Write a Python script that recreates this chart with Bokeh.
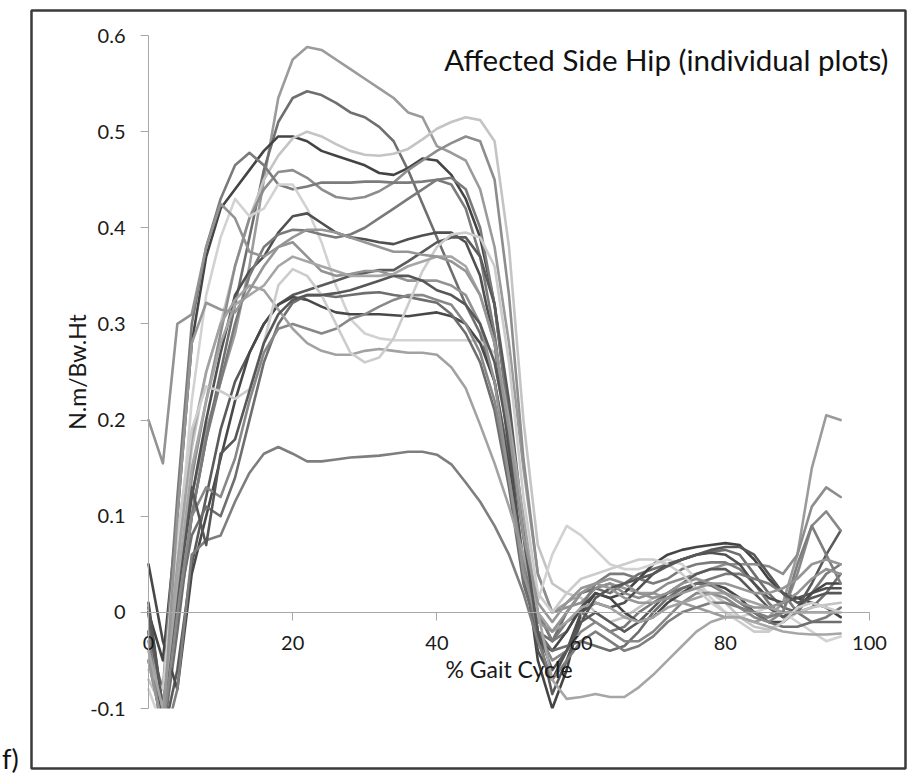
from bokeh.plotting import figure
from bokeh.models import Range1d, FixedTicker, Label, Div
from bokeh.layouts import row
from bokeh.embed import file_html
from bokeh.resources import INLINE

# ---------------- data ----------------
gait = [0, 2, 4, 6, 8, 10, 12, 14, 16, 18,
        20, 22, 24, 26, 28, 30, 32, 34, 36, 38,
        40, 42, 44, 46, 48, 50, 52, 54, 56, 58,
        60, 62, 64, 66, 68, 70, 72, 74, 76, 78,
        80, 82, 84, 86, 88, 90, 92, 94, 96]

s01 = [-0.05, -0.12, 0.02, 0.12, 0.19, 0.24, 0.29, 0.36, 0.45, 0.535,
       0.575, 0.588, 0.585, 0.575, 0.565, 0.555, 0.545, 0.535, 0.52, 0.515,
       0.485, 0.478, 0.47, 0.44, 0.38, 0.28, 0.15, 0.04, 0.0, 0.01,
       0.02, 0.025, 0.03, 0.025, 0.02, 0.02, 0.015, 0.01, 0.005, 0.0,
       -0.005, -0.005, -0.01, -0.005, 0.01, 0.06, 0.15, 0.205, 0.2]
s02 = [-0.02, -0.13, -0.02, 0.1, 0.18, 0.25, 0.32, 0.39, 0.46, 0.51,
       0.535, 0.542, 0.538, 0.53, 0.52, 0.515, 0.505, 0.49, 0.46, 0.425,
       0.39, 0.355, 0.32, 0.29, 0.24, 0.16, 0.06, -0.02, -0.03, 0.0,
       0.02, 0.025, 0.02, 0.03, 0.04, 0.045, 0.05, 0.055, 0.06, 0.063,
       0.065, 0.06, 0.04, 0.02, 0.005, 0.0, 0.005, 0.02, 0.04]
s03 = [0.0, -0.05, 0.1, 0.28, 0.37, 0.42, 0.44, 0.46, 0.48, 0.495,
       0.495, 0.49, 0.48, 0.475, 0.47, 0.465, 0.457, 0.455, 0.462, 0.472,
       0.47, 0.455, 0.43, 0.39, 0.32, 0.2, 0.06, -0.05, -0.1, -0.06,
       0.0, 0.02, 0.015, 0.02, 0.035, 0.05, 0.06, 0.065, 0.068, 0.07,
       0.072, 0.07, 0.055, 0.035, 0.02, 0.015, 0.01, 0.005, -0.005]
s04 = [-0.07, -0.1, 0.05, 0.17, 0.25, 0.3, 0.36, 0.41, 0.45, 0.475,
       0.493, 0.5, 0.495, 0.487, 0.48, 0.476, 0.475, 0.477, 0.482, 0.492,
       0.503, 0.51, 0.515, 0.512, 0.49, 0.38, 0.2, 0.07, 0.03, 0.02,
       0.015, 0.0, -0.01, -0.005, 0.005, 0.015, 0.02, 0.022, 0.025, 0.02,
       0.01, -0.005, -0.015, -0.018, -0.01, 0.0, 0.005, 0.008, 0.01]
s05 = [0.0, -0.12, 0.0, 0.14, 0.22, 0.29, 0.36, 0.41, 0.44, 0.458,
       0.46, 0.452, 0.44, 0.432, 0.43, 0.432, 0.438, 0.447, 0.46, 0.47,
       0.48, 0.488, 0.495, 0.49, 0.45, 0.33, 0.16, 0.04, 0.0, 0.005,
       0.01, 0.025, 0.03, 0.02, 0.015, 0.02, 0.03, 0.035, 0.04, 0.045,
       0.05, 0.05, 0.05, 0.048, 0.04, 0.06, 0.11, 0.13, 0.12]
s06 = [-0.03, -0.08, 0.12, 0.3, 0.38, 0.43, 0.465, 0.478, 0.465, 0.445,
       0.44, 0.443, 0.447, 0.447, 0.447, 0.448, 0.448, 0.447, 0.447, 0.448,
       0.45, 0.445, 0.42, 0.37, 0.29, 0.18, 0.07, 0.0, -0.03, -0.02,
       0.005, 0.03, 0.04, 0.04, 0.035, 0.03, 0.035, 0.045, 0.05, 0.052,
       0.052, 0.045, 0.03, 0.01, -0.005, 0.0, 0.02, 0.04, 0.05]
s07 = [-0.08, -0.12, 0.05, 0.22, 0.33, 0.39, 0.43, 0.412, 0.42, 0.445,
       0.445, 0.42, 0.385, 0.34, 0.305, 0.29, 0.285, 0.283, 0.283, 0.283,
       0.283, 0.283, 0.283, 0.282, 0.27, 0.2, 0.06, 0.012, 0.06, 0.09,
       0.08, 0.065, 0.05, 0.045, 0.045, 0.05, 0.055, 0.05, 0.035, 0.015,
       0.0, -0.005, 0.0, 0.005, 0.0, -0.01, -0.02, -0.03, -0.025]
s08 = [0.01, -0.1, 0.02, 0.12, 0.2, 0.27, 0.33, 0.355, 0.37, 0.395,
       0.412, 0.415, 0.405, 0.395, 0.39, 0.388, 0.385, 0.383, 0.388, 0.392,
       0.395, 0.395, 0.385, 0.35, 0.28, 0.17, 0.05, -0.04, -0.07, -0.04,
       0.0, 0.01, 0.005, 0.01, 0.025, 0.04, 0.05, 0.055, 0.06, 0.062,
       0.06, 0.05, 0.03, 0.015, 0.01, 0.015, 0.02, 0.025, 0.025]
s09 = [-0.02, -0.12, 0.0, 0.1, 0.18, 0.24, 0.3, 0.35, 0.38, 0.393,
       0.398, 0.397, 0.393, 0.39, 0.393, 0.4, 0.41, 0.42, 0.43, 0.44,
       0.45, 0.452, 0.44, 0.4, 0.32, 0.2, 0.08, 0.0, -0.03, -0.01,
       0.0, -0.01, -0.02, -0.015, 0.0, 0.01, 0.02, 0.025, 0.03, 0.035,
       0.04, 0.04, 0.035, 0.03, 0.02, 0.0, -0.01, -0.005, 0.005]
s10 = [0.0, -0.13, -0.06, 0.05, 0.12, 0.19, 0.24, 0.27, 0.3, 0.32,
       0.33, 0.335, 0.34, 0.345, 0.35, 0.353, 0.356, 0.356, 0.365, 0.375,
       0.385, 0.39, 0.39, 0.37, 0.32, 0.22, 0.09, -0.02, -0.085, -0.05,
       -0.01, 0.0, -0.01, -0.02, -0.01, 0.005, 0.02, 0.03, 0.04, 0.045,
       0.045, 0.035, 0.02, 0.005, -0.005, 0.005, 0.03, 0.06, 0.085]
s11 = [0.05, -0.03, -0.08, 0.04, 0.1, 0.16, 0.22, 0.27, 0.3, 0.32,
       0.328, 0.325, 0.318, 0.312, 0.31, 0.31, 0.31, 0.309, 0.308, 0.31,
       0.312, 0.308, 0.3, 0.28, 0.24, 0.15, 0.04, -0.03, -0.04, -0.02,
       0.005, 0.02, 0.015, 0.0, -0.01, -0.005, 0.01, 0.02, 0.03, 0.03,
       0.025, 0.015, 0.0, -0.01, -0.01, 0.005, 0.02, 0.03, 0.03]
s12 = [0.0, -0.1, 0.0, 0.08, 0.11, 0.1, 0.14, 0.2, 0.26, 0.3,
       0.322, 0.33, 0.33, 0.328, 0.33, 0.332, 0.333, 0.33, 0.328, 0.325,
       0.322, 0.31, 0.29, 0.26, 0.21, 0.13, 0.03, -0.02, -0.04, -0.035,
       -0.03, -0.035, -0.04, -0.035, -0.02, 0.0, 0.015, 0.025, 0.03, 0.028,
       0.02, 0.01, 0.0, -0.01, -0.015, -0.015, -0.01, -0.01, -0.01]
s13 = [-0.05, -0.12, 0.0, 0.1, 0.13, 0.12, 0.16, 0.22, 0.27, 0.295,
       0.3, 0.295, 0.29, 0.295, 0.305, 0.31, 0.318, 0.325, 0.33, 0.33,
       0.325, 0.32, 0.3, 0.27, 0.22, 0.14, 0.05, -0.02, -0.05, -0.04,
       -0.02, -0.01, -0.02, -0.03, -0.03, -0.02, -0.005, 0.01, 0.02, 0.02,
       0.015, 0.005, -0.005, -0.01, 0.0, 0.04, 0.09, 0.105, 0.085]
s14 = [-0.03, -0.1, 0.05, 0.18, 0.25, 0.3, 0.325, 0.34, 0.335, 0.315,
       0.295, 0.28, 0.272, 0.268, 0.268, 0.272, 0.274, 0.272, 0.27, 0.27,
       0.268, 0.255, 0.233, 0.195, 0.155, 0.11, 0.06, 0.0, -0.02, -0.01,
       0.005, 0.01, 0.005, -0.005, -0.01, -0.005, 0.005, 0.01, 0.015, 0.02,
       0.02, 0.015, 0.01, 0.005, 0.0, 0.0, 0.0, 0.0, 0.0]
s15 = [-0.02, -0.14, -0.08, 0.06, 0.075, 0.08, 0.115, 0.145, 0.165, 0.172,
       0.165, 0.157, 0.157, 0.159, 0.161, 0.162, 0.163, 0.165, 0.167, 0.167,
       0.164, 0.154, 0.135, 0.115, 0.09, 0.06, 0.02, -0.03, -0.07, -0.05,
       -0.03, -0.02, -0.03, -0.04, -0.035, -0.025, -0.01, 0.0, 0.005, 0.01,
       0.01, 0.005, 0.0, -0.005, 0.0, 0.05, 0.09, 0.06, 0.03]
s16 = [0.2, 0.155, 0.3, 0.31, 0.38, 0.425, 0.41, 0.375, 0.37, 0.38,
       0.385, 0.37, 0.355, 0.35, 0.352, 0.355, 0.355, 0.35, 0.345, 0.345,
       0.345, 0.34, 0.33, 0.3, 0.24, 0.14, 0.04, -0.01, -0.02, 0.0,
       0.02, 0.03, 0.035, 0.03, 0.02, 0.015, 0.02, 0.03, 0.035, 0.03,
       0.02, 0.01, 0.005, 0.005, 0.01, 0.02, 0.035, 0.045, 0.04]
s17 = [-0.06, -0.08, 0.08, 0.19, 0.235, 0.23, 0.222, 0.232, 0.28, 0.34,
       0.357, 0.35, 0.33, 0.3, 0.27, 0.26, 0.265, 0.285, 0.32, 0.355,
       0.38, 0.393, 0.395, 0.39, 0.36, 0.26, 0.12, 0.02, 0.0, 0.02,
       0.035, 0.04, 0.045, 0.05, 0.055, 0.055, 0.05, 0.04, 0.025, 0.01,
       0.0, -0.01, -0.02, -0.02, -0.01, 0.005, 0.01, 0.005, 0.0]
s18 = [0.005, -0.1, 0.02, 0.13, 0.07, 0.165, 0.18, 0.23, 0.28, 0.31,
       0.325, 0.33, 0.33, 0.332, 0.335, 0.34, 0.345, 0.35, 0.35, 0.345,
       0.335, 0.33, 0.32, 0.3, 0.26, 0.18, 0.08, -0.02, -0.06, -0.04,
       -0.01, 0.015, 0.025, 0.03, 0.035, 0.04, 0.048, 0.055, 0.06, 0.065,
       0.068, 0.068, 0.06, 0.04, 0.02, 0.01, 0.015, 0.02, 0.02]
s19 = [-0.04, -0.1, 0.03, 0.15, 0.22, 0.28, 0.32, 0.33, 0.34, 0.36,
       0.37, 0.365, 0.36, 0.355, 0.35, 0.35, 0.35, 0.352, 0.36, 0.365,
       0.37, 0.37, 0.36, 0.33, 0.28, 0.2, 0.1, 0.0, -0.07, -0.09,
       -0.088, -0.085, -0.088, -0.088, -0.078, -0.065, -0.05, -0.035, -0.02, -0.01,
       -0.005, -0.005, -0.01, -0.015, -0.02, -0.022, -0.023, -0.023, -0.022]
s20 = [-0.05, -0.12, 0.1, 0.28, 0.322, 0.315, 0.312, 0.335, 0.36, 0.38,
       0.39, 0.398, 0.398, 0.395, 0.39, 0.385, 0.38, 0.375, 0.375, 0.372,
       0.37, 0.365, 0.355, 0.33, 0.28, 0.19, 0.08, 0.01, -0.01, 0.01,
       0.025, 0.03, 0.025, 0.015, 0.01, 0.01, 0.015, 0.02, 0.025, 0.03,
       0.03, 0.025, 0.02, 0.02, 0.025, 0.035, 0.05, 0.055, 0.05]

series = [s01, s02, s03, s04, s05, s06, s07, s08, s09, s10,
          s11, s12, s13, s14, s15, s16, s17, s18, s19, s20]
colors = ["#9b9b9b", "#6f6f6f", "#444444", "#c4c4c4", "#8d8d8d",
          "#7b7b7b", "#d2d2d2", "#505050", "#7a7a7a", "#5a5a5a",
          "#484848", "#6e6e6e", "#888888", "#a2a2a2", "#7e7e7e",
          "#939393", "#cccccc", "#575757", "#a6a6a6", "#969696"]

x_ticks = [0, 20, 40, 60, 80, 100]
y_ticks = [-0.1, 0.0, 0.1, 0.2, 0.3, 0.4, 0.5, 0.6]
y_tick_labels = ["-0.1", "0", "0.1", "0.2", "0.3", "0.4", "0.5", "0.6"]

title_text = "Affected Side Hip (individual plots)"
x_label = "% Gait Cycle"
y_label = "N.m/Bw.Ht"
panel_tag = "f)"

# ---------------- layout (page pixel positions; the page has no margin) ----------------
TAG_W = 29                      # left strip holding "f)"
W, H = 879, 777                 # figure canvas: page x 29..908, y 0..777
CX, CY = TAG_W, 0               # canvas origin on the page
FL, FR, FT, FB = 31, 905, 10, 768   # chart border (plot frame) on the page
DL, DR, DT, DB = 148, 869, 35, 708  # data area (x 0..100, y -0.1..0.6) on the page
X0, X1, Y0, Y1 = 0.0, 100.0, -0.1, 0.6
SX = (DR - DL) / (X1 - X0)
SY = (DB - DT) / (Y1 - Y0)


def dx(px):
    return X0 + (px - DL) / SX


def dy(py):
    return Y1 - (py - DT) / SY


FONT = "Lato"
p = figure(width=W, height=H, output_backend="svg", toolbar_location=None,
           x_range=Range1d(dx(FL), dx(FR)), y_range=Range1d(dy(FB), dy(FT)),
           min_border_left=FL - CX, min_border_right=(CX + W) - FR,
           min_border_top=FT - CY, min_border_bottom=(CY + H) - FB,
           background_fill_color="white", border_fill_color="white")
p.outline_line_color = "#3a3a3a"
p.outline_line_width = 2.5
p.xgrid.visible = False
p.ygrid.visible = False

for s, c in zip(series, colors):
    p.line(gait, s, line_color=c, line_width=2.6, line_join="round", line_cap="round")

# white mask: the chart's plot area stops at y = -0.1 (curves are cut there)
p.quad(left=dx(FL + 3), right=dx(FR - 3), bottom=dy(FB - 3), top=y_ticks[0],
       fill_color="white", line_color=None)

for ax in (p.xaxis[0], p.yaxis[0]):
    ax.fixed_location = 0
    ax.axis_line_color = "#a8a8a8"
    ax.axis_line_width = 1
    ax.major_tick_line_color = "#a8a8a8"
    ax.major_tick_in = 0
    ax.major_tick_out = 8
    ax.minor_tick_line_color = None
    ax.major_label_text_font = FONT
    ax.major_label_text_font_size = "20px"
    ax.major_label_text_color = "#1a1a1a"
    ax.axis_label_text_font = FONT
    ax.axis_label_text_font_size = "23px"
    ax.axis_label_text_font_style = "normal"
    ax.axis_label_text_color = "#1a1a1a"

p.xaxis.ticker = FixedTicker(ticks=x_ticks)
p.xaxis.bounds = (x_ticks[0], x_ticks[-1])
p.xaxis.axis_label = x_label
p.xaxis.major_label_standoff = 16
p.xaxis.axis_label_standoff = 1

p.yaxis.ticker = FixedTicker(ticks=y_ticks)
p.yaxis.bounds = (y_ticks[0], y_ticks[-1])
p.yaxis.major_label_overrides = {t: l for t, l in zip(y_ticks, y_tick_labels)}
p.yaxis.axis_label = y_label
p.yaxis.major_label_standoff = 15
p.yaxis.axis_label_standoff = -4

p.add_layout(Label(x=dx(888), y=dy(59), text=title_text, text_align="right",
                   text_baseline="alphabetic", text_font=FONT,
                   text_font_size="29.5px", text_color="#111111"))

tag = Div(text=('<div style="font-family:Lato;font-size:27px;line-height:30px;'
                'color:#111111;padding-top:744px;padding-left:2px;">' + panel_tag + '</div>'),
          width=TAG_W, height=H, margin=0)

layout = row(tag, p, spacing=0)
open("out.html", "w").write(file_html(layout, INLINE))
